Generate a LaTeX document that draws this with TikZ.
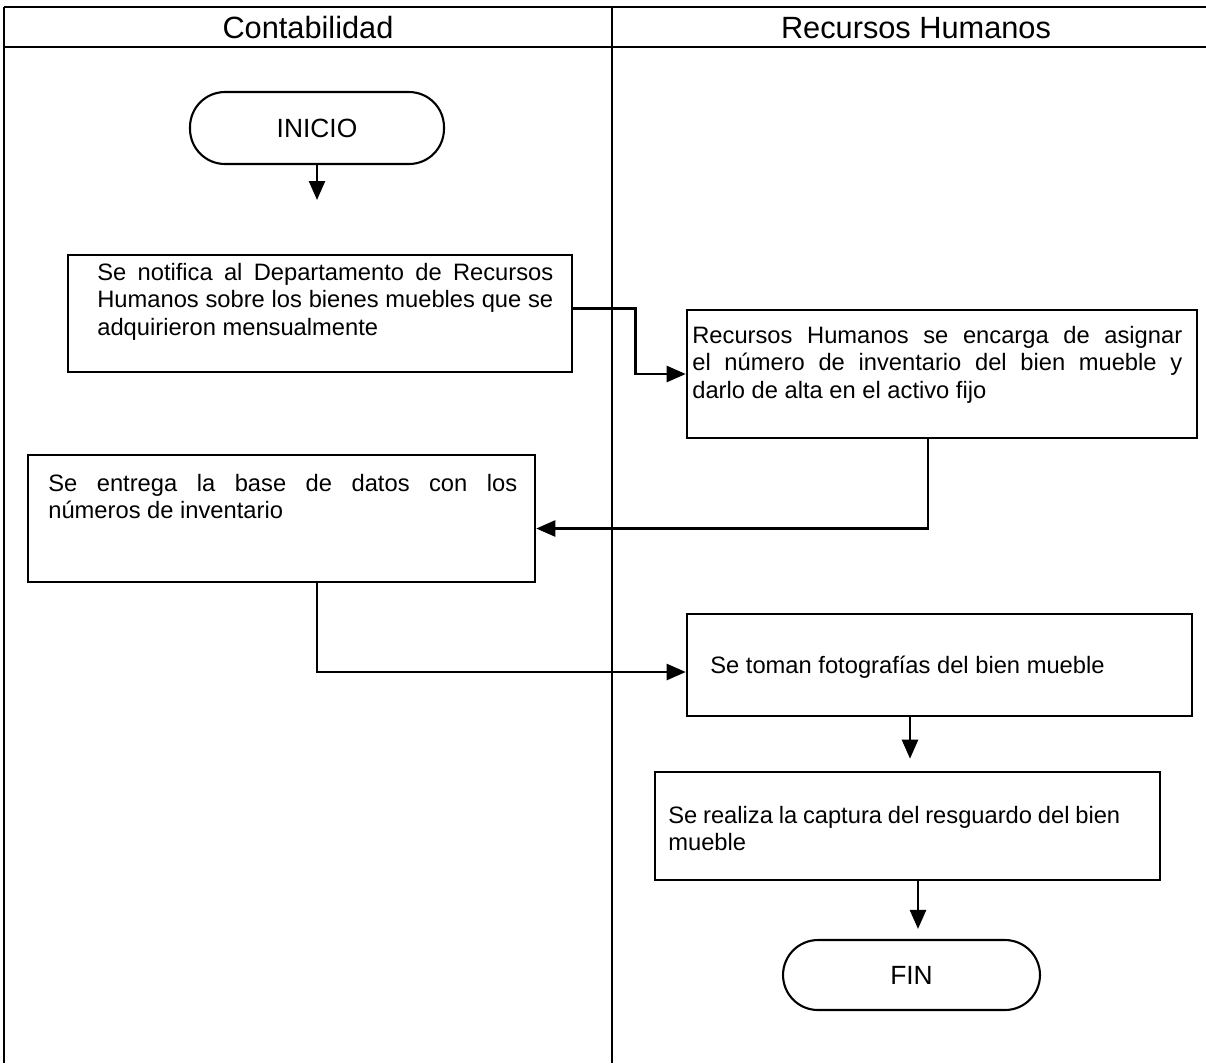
\documentclass[tikz,border=0pt]{standalone}
\usepackage{fontspec}
\setmainfont{Liberation Sans}
\usetikzlibrary{positioning, arrows.meta, calc}

\begin{document}
\begin{tikzpicture}[
    x=0.02cm, y=-0.02cm,
    box/.style={rectangle, draw, line width=1.5pt, inner sep=0pt},
    term/.style={rectangle, draw, line width=1.2pt, rounded corners=0.7cm, inner sep=0pt, font=\fontsize{15}{18}\selectfont},
    txt/.style={inner sep=0pt, anchor=north west, align=justify, font=\fontsize{13.5}{15.5}\selectfont},
    lane/.style={line width=1pt},
    head/.style={font=\fontsize{17.5}{20}\selectfont},
    arrow/.style={-{Triangle[length=0.38cm, width=0.32cm]}, line width=1.4pt}
]
\useasboundingbox (0,0) rectangle (1206,1063);

% carriles
\draw[lane] (4,7) -- (1206,7);
\draw[lane] (4,47) -- (1206,47);
\draw[lane] (4,7) -- (4,1063);
\draw[lane] (612,7) -- (612,1063);
\node[head] (cont) at (308,28) {Contabilidad};
\node[head] (rh) at (916,28) {Recursos Humanos};

% pasos
\node[term, minimum width=5.08cm, minimum height=1.44cm] (inicio) at (317,128) {INICIO};
\coordinate (ini1) at (317,200);

\node[box, minimum width=10.08cm, minimum height=2.34cm] (notif) at (320,313.5) {};
\node[txt, text width=9.12cm] (tnotif) at (97,263) {Se notifica al Departamento de Recursos\linebreak Humanos sobre los bienes muebles que se\linebreak adquirieron mensualmente};

\node[box, minimum width=10.2cm, minimum height=2.56cm] (asig) at (942,374) {};
\node[txt, text width=9.8cm] (tasig) at (692,326) {Recursos Humanos se encarga de asignar\linebreak el número de inventario del bien mueble y\linebreak darlo de alta en el activo fijo};

\node[box, minimum width=10.14cm, minimum height=2.54cm] (base) at (281.5,518.5) {};
\node[txt, text width=9.38cm] (tbase) at (48,474) {Se entrega la base de datos con los\linebreak números de inventario};

\node[box, minimum width=10.1cm, minimum height=2.04cm] (foto) at (939.5,665) {};
\node[txt, anchor=base west] (tfoto) at (710,673.5) {Se toman fotografías del bien mueble};

\node[box, minimum width=10.1cm, minimum height=2.16cm] (resg) at (907.5,826) {};
\node[txt, text width=9.04cm] (tresg) at (668,806) {Se realiza la captura del resguardo del bien\linebreak mueble};

\node[term, minimum width=5.14cm, minimum height=1.4cm] (fin) at (911.5,975) {FIN};

% flechas
\draw[arrow] (inicio) -- (ini1);
\draw[arrow] ([yshift=0.1cm]notif.east) -- ++(62,0) |- (asig.west);
\draw[arrow] ([xshift=-0.28cm]asig.south) |- ([yshift=-0.2cm]base.east);
\draw[arrow] ([xshift=0.71cm]base.south) |- ([yshift=-0.14cm]foto.west);
\draw[arrow, shorten >=0.24cm] ([xshift=-0.59cm]foto.south) -- ([xshift=-0.59cm]foto.south |- resg.north);
\draw[arrow, shorten >=0.2cm] ([xshift=0.21cm]resg.south) -- ([xshift=0.21cm]resg.south |- fin.north);
\end{tikzpicture}
\end{document}
